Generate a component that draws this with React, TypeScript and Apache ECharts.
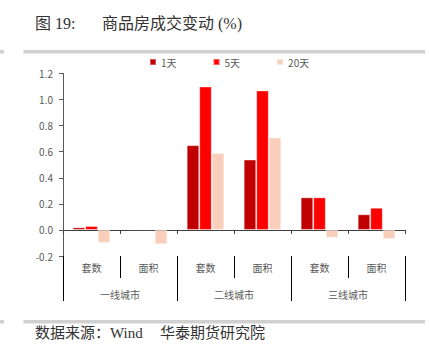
import React, { useEffect, useRef } from "react";
import * as echarts from "echarts";

const categories = ["套数", "面积", "套数", "面积", "套数", "面积"];
const groups = ["一线城市", "二线城市", "三线城市"];
const seriesNames = ["1天", "5天", "20天"];
const day1 = [0.02, 0.005, 0.65, 0.54, 0.25, 0.12];
const day5 = [0.03, 0.005, 1.1, 1.07, 0.25, 0.17];
const day20 = [-0.1, -0.11, 0.59, 0.71, -0.06, -0.07];
const colors = ["#C00000", "#FF0000", "#F9CFBC"];
const yTicks = { min: -0.2, max: 1.2, interval: 0.2 };

const serif = "'Liberation Serif', 'DejaVu Serif', 'Noto Sans CJK SC', serif";
const sans = "'Noto Sans CJK SC', 'DejaVu Sans', sans-serif";

export default function App() {
  const ref = useRef<HTMLDivElement>(null);
  useEffect(() => {
    if (!ref.current) return;
    const chart = echarts.init(ref.current, undefined, { renderer: "svg" });
    const values = [day1, day5, day20];
    const txt = (x: number, y: number, text: string, size: number) => ({
      type: "text",
      x,
      y,
      style: {
        text,
        font: `${size}px ${serif}`,
        fill: "#333",
        verticalAlign: "middle",
        align: "left",
      },
    });
    chart.setOption({
      animation: false,
      backgroundColor: "#ffffff",
      grid: { left: 63, right: 24, top: 73.5, bottom: 98, containLabel: false },
      legend: {
        data: seriesNames,
        left: 149,
        top: 57,
        padding: 0,
        itemWidth: 6,
        itemHeight: 6,
        itemGap: 36,
        icon: "rect",
        textStyle: { fontSize: 10, color: "#595959", fontFamily: sans },
      },
      xAxis: [
        {
          type: "category",
          data: categories,
          position: "bottom",
          axisLine: { onZero: true, lineStyle: { color: "#404040", width: 1 } },
          axisTick: { show: true, interval: 0, length: 4, lineStyle: { color: "#404040" } },
          axisLabel: { show: false },
        },
        {
          type: "category",
          data: categories,
          position: "bottom",
          axisLine: { show: false, onZero: false },
          axisTick: { show: true, interval: 0, length: 22, lineStyle: { color: "#000000" } },
          axisLabel: { interval: 0, margin: 6, fontSize: 10, color: "#595959", fontFamily: sans },
        },
        {
          type: "category",
          data: groups,
          position: "bottom",
          axisLine: { show: false, onZero: false },
          axisTick: { show: true, interval: 0, length: 45, lineStyle: { color: "#000000" } },
          axisLabel: { interval: 0, margin: 33, fontSize: 10, color: "#595959", fontFamily: sans },
        },
      ],
      yAxis: {
        type: "value",
        min: yTicks.min,
        max: yTicks.max,
        interval: yTicks.interval,
        axisLine: { show: true, lineStyle: { color: "#595959" } },
        axisTick: { show: true, length: 4, lineStyle: { color: "#595959" } },
        splitLine: { show: false },
        axisLabel: {
          margin: 10,
          fontSize: 10,
          color: "#595959",
          fontFamily: sans,
          formatter: (v: number) => v.toFixed(1),
        },
      },
      series: seriesNames.map((name, i) => ({
        name,
        type: "bar",
        xAxisIndex: 0,
        data: values[i],
        barGap: "0%",
        barCategoryGap: "34%",
        itemStyle: {
          color: colors[i],
          borderColor: "rgba(255,255,255,0.35)",
          borderWidth: 1,
        },
      })),
      graphic: [
        txt(35, 23.5, "图 19:", 16),
        txt(102, 23.5, "商品房成交变动 (%)", 16),
        { type: "rect", shape: { x: 0, y: 50, width: 4, height: 3.5 }, style: { fill: "#D0D0D0" } },
        { type: "rect", shape: { x: 23.5, y: 50, width: 401.5, height: 3.5 }, style: { fill: "#D0D0D0" } },
        { type: "rect", shape: { x: 0, y: 320, width: 4, height: 3.5 }, style: { fill: "#D0D0D0" } },
        { type: "rect", shape: { x: 23.5, y: 320, width: 401.5, height: 3.5 }, style: { fill: "#D0D0D0" } },
        txt(35, 333, "数据来源：Wind", 15),
        txt(160, 333, "华泰期货研究院", 15),
      ],
    });
    return () => chart.dispose();
  }, []);
  return (
    <div
      ref={ref}
      style={{ position: "fixed", left: 0, top: 0, width: 429, height: 354, background: "#fff" }}
    />
  );
}
